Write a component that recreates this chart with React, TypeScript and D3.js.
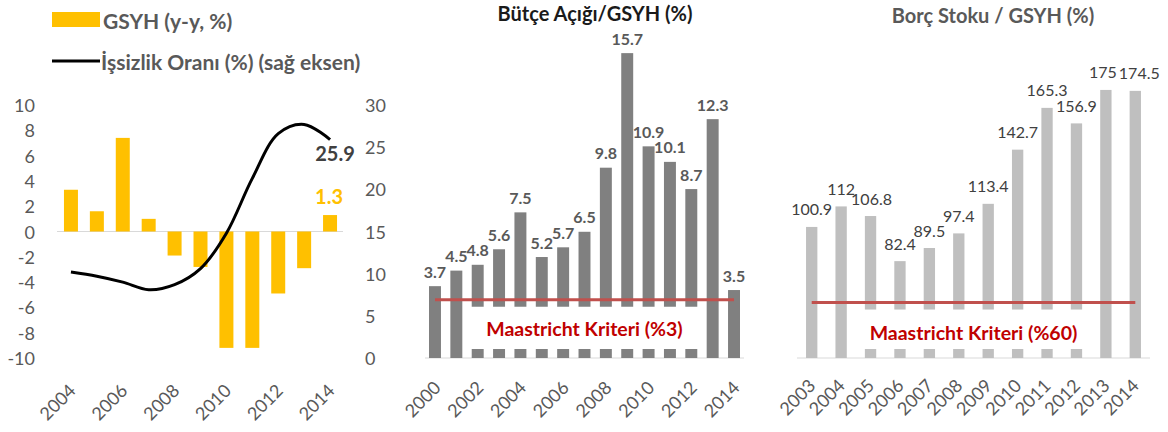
import React from "react";
import * as d3 from "d3";

// ---------- DATA ----------
const gdpYears = [2004, 2005, 2006, 2007, 2008, 2009, 2010, 2011, 2012, 2013, 2014];
const gdpGrowth = [3.3, 1.6, 7.4, 1.0, -1.9, -2.8, -9.2, -9.2, -4.9, -2.9, 1.3];
const unemployment = [10.2, 9.7, 9.0, 8.1, 8.7, 10.6, 14.8, 21.3, 26.6, 27.7, 25.9];
const gdpLeftTicks = [-10, -8, -6, -4, -2, 0, 2, 4, 6, 8, 10];
const gdpRightTicks = [0, 5, 10, 15, 20, 25, 30];
const gdpXTickYears = [2004, 2006, 2008, 2010, 2012, 2014];

const deficitYears = [2000, 2001, 2002, 2003, 2004, 2005, 2006, 2007, 2008, 2009, 2010, 2011, 2012, 2013, 2014];
const deficit = [3.7, 4.5, 4.8, 5.6, 7.5, 5.2, 5.7, 6.5, 9.8, 15.7, 10.9, 10.1, 8.7, 12.3, 3.5];
const deficitXTickYears = [2000, 2002, 2004, 2006, 2008, 2010, 2012, 2014];
const deficitCriterion = 3;

const debtYears = [2003, 2004, 2005, 2006, 2007, 2008, 2009, 2010, 2011, 2012, 2013, 2014];
const debt = [100.9, 112, 106.8, 82.4, 89.5, 97.4, 113.4, 142.7, 165.3, 156.9, 175, 174.5];
const debtCriterion = 60;

const legendGdp = "GSYH (y-y, %)";
const legendUnemp = "İşsizlik Oranı (%) (sağ eksen)";
const titleDeficit = "Bütçe Açığı/GSYH (%)";
const titleDebt = "Borç Stoku / GSYH (%)";
const criterionDeficitLabel = "Maastricht Kriteri (%3)";
const criterionDebtLabel = "Maastricht Kriteri (%60)";

const FONT = "Lato, 'Open Sans', sans-serif";
const TICK = "#595959";
const RED_LINE = "#C0504D";
const RED_TEXT = "#C00000";

// small label nudges (px) so that neighbouring labels do not collide, as in the original
const debtLabelDx = [0, 0, 1, 0, 0, 0, 0, 0, 0, 0, -3, 4];

function fmt(v: number) {
  return String(v);
}

// ---------- PANEL 1 ----------
function Panel1() {
  const x = d3.scaleBand<number>().domain(gdpYears).range([58, 343]).paddingInner(0.46).paddingOuter(0.23);
  const yL = d3.scaleLinear().domain([-10, 10]).range([358, 105]);
  const yR = d3.scaleLinear().domain([0, 30]).range([358, 105]);
  const cx = (yr: number) => (x(yr) as number) + x.bandwidth() / 2;
  const line = d3
    .line<number>()
    .x((_, i) => cx(gdpYears[i]))
    .y((d) => yR(d))
    .curve(d3.curveCatmullRom.alpha(0.5));
  const lastI = gdpYears.length - 1;
  return (
    <g>
      {/* legend */}
      <rect x={52} y={12} width={48} height={15} fill="#FFC000" />
      <text x={103} y={20} fontFamily={FONT} fontWeight="bold" fontSize={21} fill={TICK} dominantBaseline="central">
        {legendGdp}
      </text>
      <line x1={52} x2={100} y1={61} y2={61} stroke="#000" strokeWidth={3} />
      <text x={101} y={61} fontFamily={FONT} fontWeight="bold" fontSize={21} fill={TICK} dominantBaseline="central">
        {legendUnemp}
      </text>

      {/* zero line */}
      <line x1={57} x2={343} y1={yL(0)} y2={yL(0)} stroke="#d9d9d9" strokeWidth={1} />

      {gdpGrowth.map((v, i) => (
        <rect
          key={i}
          x={x(gdpYears[i])}
          width={x.bandwidth()}
          y={Math.min(yL(v), yL(0))}
          height={Math.abs(yL(v) - yL(0))}
          fill="#FFC000"
        />
      ))}

      <path d={line(unemployment) || ""} fill="none" stroke="#000" strokeWidth={3} strokeLinejoin="round" />

      {/* left ticks */}
      {gdpLeftTicks.map((t) => (
        <text key={t} x={35} y={yL(t)} textAnchor="end" dominantBaseline="central" fontFamily={FONT} fontSize={18} fill={TICK}>
          {t}
        </text>
      ))}
      {/* right ticks */}
      {gdpRightTicks.map((t) => (
        <text key={t} x={365} y={yR(t)} textAnchor="start" dominantBaseline="central" fontFamily={FONT} fontSize={18} fill={TICK}>
          {t}
        </text>
      ))}
      {/* x ticks */}
      {gdpXTickYears.map((yr) => (
        <text
          key={yr}
          transform={`translate(${cx(yr) + 1},387) rotate(-45)`}
          textAnchor="end"
          dominantBaseline="central"
          fontFamily={FONT}
          fontSize={18}
          fill={TICK}
        >
          {yr}
        </text>
      ))}

      {/* end labels */}
      <text x={cx(gdpYears[lastI]) + 5} y={yR(unemployment[lastI]) + 13} textAnchor="middle" dominantBaseline="central" fontFamily={FONT} fontWeight="bold" fontSize={20} fill="#404040">
        {fmt(unemployment[lastI])}
      </text>
      <text x={cx(gdpYears[lastI]) - 1} y={yL(gdpGrowth[lastI]) - 19} textAnchor="middle" dominantBaseline="central" fontFamily={FONT} fontWeight="bold" fontSize={20} fill="#FFC000">
        {fmt(gdpGrowth[lastI])}
      </text>
    </g>
  );
}

// ---------- PANEL 2 ----------
function Panel2() {
  const x = d3.scaleBand<number>().domain(deficitYears).range([424.3, 744.7]).paddingInner(0.44).paddingOuter(0.22);
  const y = d3.scaleLinear().domain([0, 16]).range([358, 47.3]);
  const cx = (yr: number) => (x(yr) as number) + x.bandwidth() / 2;
  const step = x.step();
  const bw = x.bandwidth();
  const ly = y(deficitCriterion);
  const boxX0 = (x(2002) as number) - (step - bw) / 2;
  const boxX1 = (x(2012) as number) + bw + (step - bw) / 2;
  const boxY0 = ly + 7;
  const boxY1 = y(0) - 9;
  return (
    <g>
      <text x={595} y={13} textAnchor="middle" dominantBaseline="central" fontFamily={FONT} fontWeight="bold" fontSize={20} fill="#1a1a1a">
        {titleDeficit}
      </text>
      <line x1={425} x2={744} y1={y(0)} y2={y(0)} stroke="#d9d9d9" strokeWidth={1} />
      {deficit.map((v, i) => (
        <rect key={i} x={x(deficitYears[i])} width={bw} y={y(v)} height={y(0) - y(v)} fill="#808080" />
      ))}
      {deficit.map((v, i) => (
        <text
          key={i}
          x={cx(deficitYears[i])}
          y={y(v) - 15}
          textAnchor="middle"
          dominantBaseline="central"
          fontFamily={FONT}
          fontWeight="bold"
          fontSize={16}
          fill={TICK}
        >
          {fmt(v)}
        </text>
      ))}
      <rect x={boxX0} y={boxY0} width={boxX1 - boxX0} height={boxY1 - boxY0} fill="#fff" />
      <line
        x1={cx(deficitYears[0])}
        x2={cx(deficitYears[deficitYears.length - 1])}
        y1={ly}
        y2={ly}
        stroke={RED_LINE}
        strokeWidth={3}
      />
      <text x={(boxX0 + boxX1) / 2} y={(boxY0 + boxY1) / 2 + 1} textAnchor="middle" dominantBaseline="central" fontFamily={FONT} fontWeight="bold" fontSize={19.5} fill={RED_TEXT}>
        {criterionDeficitLabel}
      </text>
      {deficitXTickYears.map((yr) => (
        <text
          key={yr}
          transform={`translate(${cx(yr) + 2},384) rotate(-45)`}
          textAnchor="end"
          dominantBaseline="central"
          fontFamily={FONT}
          fontSize={18}
          fill={TICK}
        >
          {yr}
        </text>
      ))}
    </g>
  );
}

// ---------- PANEL 3 ----------
function Panel3() {
  const x = d3.scaleBand<number>().domain(debtYears).range([797, 1150]).paddingInner(0.615).paddingOuter(0.3075);
  const y = d3.scaleLinear().domain([30, 180]).range([358, 80.7]);
  const cx = (yr: number) => (x(yr) as number) + x.bandwidth() / 2;
  const step = x.step();
  const bw = x.bandwidth();
  const ly = y(debtCriterion);
  const boxX0 = (x(2005) as number) - (step - bw) / 2;
  const boxX1 = (x(2012) as number) + bw + (step - bw) / 2;
  const boxY0 = ly + 7;
  const boxY1 = y(30) - 9;
  return (
    <g>
      <text x={993} y={15} textAnchor="middle" dominantBaseline="central" fontFamily={FONT} fontWeight="bold" fontSize={20} fill={TICK}>
        {titleDebt}
      </text>
      <line x1={797} x2={1150} y1={y(30)} y2={y(30)} stroke="#d9d9d9" strokeWidth={1} />
      {debt.map((v, i) => (
        <rect key={i} x={x(debtYears[i])} width={bw} y={y(v)} height={y(30) - y(v)} fill="#BFBFBF" />
      ))}
      {debt.map((v, i) => (
        <text
          key={i}
          x={cx(debtYears[i]) + debtLabelDx[i]}
          y={y(v) - 18}
          textAnchor="middle"
          dominantBaseline="central"
          fontFamily={FONT}
          fontSize={16}
          fill="#404040"
        >
          {fmt(v)}
        </text>
      ))}
      <rect x={boxX0} y={boxY0} width={boxX1 - boxX0} height={boxY1 - boxY0} fill="#fff" />
      <line
        x1={cx(debtYears[0])}
        x2={cx(debtYears[debtYears.length - 1])}
        y1={ly}
        y2={ly}
        stroke={RED_LINE}
        strokeWidth={3}
      />
      <text x={(boxX0 + boxX1) / 2} y={(boxY0 + boxY1) / 2 + 3} textAnchor="middle" dominantBaseline="central" fontFamily={FONT} fontWeight="bold" fontSize={19.5} fill={RED_TEXT}>
        {criterionDebtLabel}
      </text>
      {debtYears.map((yr) => (
        <text
          key={yr}
          transform={`translate(${cx(yr)},382) rotate(-45)`}
          textAnchor="end"
          dominantBaseline="central"
          fontFamily={FONT}
          fontSize={18}
          fill={TICK}
        >
          {yr}
        </text>
      ))}
    </g>
  );
}

export default function App() {
  return (
    <svg width={1168} height={432} style={{ position: "absolute", left: 0, top: 0, background: "#fff" }}>
      <rect width={1168} height={432} fill="#fff" />
      <Panel1 />
      <Panel2 />
      <Panel3 />
    </svg>
  );
}
